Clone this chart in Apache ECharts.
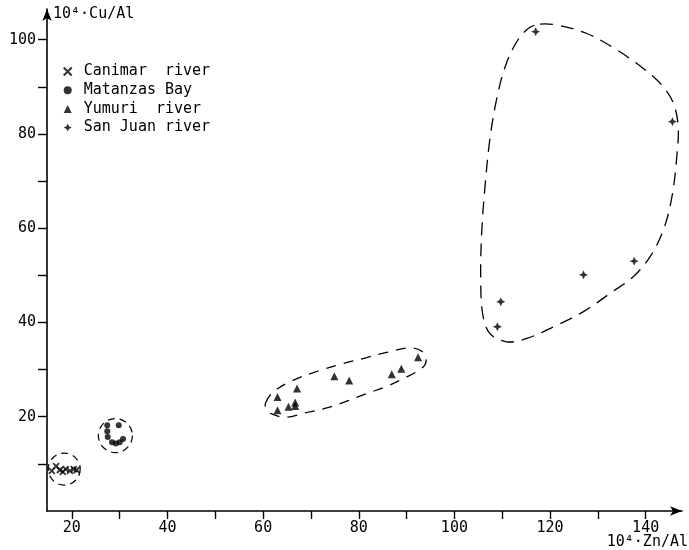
<!DOCTYPE html>
<html>
<head>
<meta charset="utf-8">
<script src="https://cdn.jsdelivr.net/npm/echarts@6/dist/echarts.min.js"></script>
<style>html,body{margin:0;padding:0;background:#fff}#c{width:689px;height:550px}</style>
</head>
<body>
<div id="c"></div>
<script>
// ---- data (10^4·Zn/Al , 10^4·Cu/Al) ----
const seriesNames = ['Canimar  river', 'Matanzas Bay', 'Yumuri  river', 'San Juan river'];

const canimarX = [15.8, 16.7, 17.5, 18.1, 18.7, 19.6, 20.4, 21.0];
const canimarY = [8.5, 9.5, 8.7, 8.3, 8.9, 8.5, 8.9, 8.7];

const matanzasX = [27.4, 29.8, 27.4, 27.5, 28.4, 29.2, 30.0, 30.7];
const matanzasY = [18.2, 18.2, 16.9, 15.7, 14.6, 14.3, 14.6, 15.3];

const yumuriX = [63.0, 67.1, 63.0, 65.3, 66.7, 66.7, 74.9, 78.0, 86.9, 88.9, 92.4];
const yumuriY = [24.2, 26.0, 21.4, 22.1, 23.0, 22.3, 28.6, 27.7, 29.0, 30.2, 32.6];

const sanJuanX = [117.0, 145.6, 137.6, 127.0, 109.7, 109.0];
const sanJuanY = [101.7, 82.6, 53.0, 50.1, 44.4, 39.1];

// axis ticks / labels
const xTicks = [20, 30, 40, 50, 60, 70, 80, 90, 100, 110, 120, 130, 140];
const xLabels = [20, 40, 60, 80, 100, 120, 140];
const yTicks = [10, 20, 30, 40, 50, 60, 70, 80, 90, 100];
const yLabels = [20, 40, 60, 80, 100];
const xTitle = '10\u2074\u00b7Zn/Al';
const yTitle = '10\u2074\u00b7Cu/Al';

// dashed group outlines (data coordinates)
const canimarCircle = [18.4, 8.9, 3.35];   // centre x, centre y, radius (x units)
const matanzasCircle = [29.1, 16.0, 3.56];
const yumuriOutline = [
  [60.5, 22.9], [62.05, 25.2], [66.0, 27.6], [71.5, 29.7], [76.5, 31.2], [81.1, 32.4],
  [86.1, 33.7], [90.5, 34.6], [93.2, 33.9], [94.1, 32.0], [93.2, 30.3], [89.5, 28.2],
  [85.5, 26.3], [81.9, 25.0], [77.5, 23.3], [73.1, 21.8], [68.7, 20.8], [64.8, 19.9],
  [61.8, 20.6], [60.6, 21.8]
];
const sanJuanOutline = [
  [117.9, 103.3], [121.4, 103.1], [127.7, 101.3], [134.0, 97.8], [139.5, 93.9], [143.4, 90.3],
  [145.8, 86.5], [146.8, 81.5], [146.5, 75.1], [145.5, 66.7], [143.7, 59.6], [140.9, 53.9],
  [137.4, 49.7], [132.6, 46.2], [127.0, 42.3], [121.4, 39.4], [115.1, 36.6], [110.9, 35.9],
  [107.4, 37.7], [105.9, 41.9], [105.5, 49.7], [105.7, 58.9], [106.4, 68.8], [107.4, 78.7],
  [108.8, 87.2], [110.6, 94.2], [113.0, 99.5], [115.5, 102.4]
];

const zip = (a, b) => a.map((v, i) => [v, b[i]]);
const FONT = 'DejaVu Sans Mono';
const INK = '#000';

const crossPath = 'path://M0,0L10,10M0,10L10,0';
const starPath = 'path://M5,0L6.6,3.4L10,5L6.6,6.6L5,10L3.4,6.6L0,5L3.4,3.4Z';

function circleSeries(c) {
  return {
    type: 'custom', silent: true, clip: false, z: 1,
    data: [c],
    renderItem: function (params, api) {
      const p = api.coord([api.value(0), api.value(1)]);
      const r = api.size([api.value(2), 0])[0];
      return { type: 'circle', shape: { cx: p[0], cy: p[1], r: r },
        style: { fill: 'none', stroke: INK, lineWidth: 1.2, lineDash: [7, 5] } };
    }
  };
}
function outlineSeries(pts, dash) {
  return {
    type: 'custom', silent: true, clip: false, z: 1,
    data: [0],
    renderItem: function (params, api) {
      const points = pts.map(p => api.coord(p));
      return { type: 'polygon', shape: { points: points, smooth: 0.35 },
        style: { fill: 'none', stroke: INK, lineWidth: 1.3, lineDash: dash } };
    }
  };
}

const chart = echarts.init(document.getElementById('c'), null, { renderer: 'canvas' });
chart.setOption({
  animation: false,
  backgroundColor: '#fff',
  grid: { left: 47, right: 7, top: 9, bottom: 39, containLabel: false },
  xAxis: {
    type: 'value', min: 14.8, max: 147.6,
    splitLine: { show: false },
    axisLine: { lineStyle: { color: INK, width: 1.6 }, symbol: ['none', 'arrow'], symbolSize: [7, 12] },
    axisTick: { customValues: xTicks, length: 8, lineStyle: { color: INK, width: 1.4 } },
    axisLabel: { customValues: xLabels, margin: 10, color: INK, fontFamily: FONT, fontSize: 15 }
  },
  yAxis: {
    type: 'value', min: 0, max: 106.5,
    splitLine: { show: false },
    axisLine: { lineStyle: { color: INK, width: 1.6 }, symbol: ['none', 'arrow'], symbolSize: [7, 12] },
    axisTick: { customValues: yTicks, length: 9, lineStyle: { color: INK, width: 1.4 } },
    axisLabel: { customValues: yLabels, margin: 11, color: INK, fontFamily: FONT, fontSize: 15 }
  },
  legend: {
    data: seriesNames,
    orient: 'vertical', left: 62.7, top: 64, padding: 0,
    itemWidth: 8, itemHeight: 8, itemGap: 3.7,
    textStyle: { fontFamily: FONT, fontSize: 15, color: INK, lineHeight: 15, padding: [0, 0, 0, 7] }
  },
  graphic: [
    { type: 'text', left: 53, top: 7, style: { text: yTitle, font: '15px "DejaVu Sans Mono"', fill: INK } },
    { type: 'text', right: 1, top: 535, style: { text: xTitle, font: '15px "DejaVu Sans Mono"', fill: INK } }
  ],
  series: [
    { name: seriesNames[0], type: 'scatter', z: 3, data: zip(canimarX, canimarY), symbol: crossPath, symbolSize: 6,
      itemStyle: { color: INK, borderColor: INK, borderWidth: 1.8 } },
    { name: seriesNames[1], type: 'scatter', z: 3, data: zip(matanzasX, matanzasY), symbol: 'circle', symbolSize: 6,
      itemStyle: { color: INK } },
    { name: seriesNames[2], type: 'scatter', z: 3, data: zip(yumuriX, yumuriY), symbol: 'triangle', symbolSize: 8,
      itemStyle: { color: INK } },
    { name: seriesNames[3], type: 'scatter', z: 3, data: zip(sanJuanX, sanJuanY), symbol: starPath, symbolSize: 9,
      itemStyle: { color: INK } },
    circleSeries(canimarCircle),
    circleSeries(matanzasCircle),
    outlineSeries(yumuriOutline, [10, 8]),
    outlineSeries(sanJuanOutline, [13, 8])
  ]
});
</script>
</body>
</html>
